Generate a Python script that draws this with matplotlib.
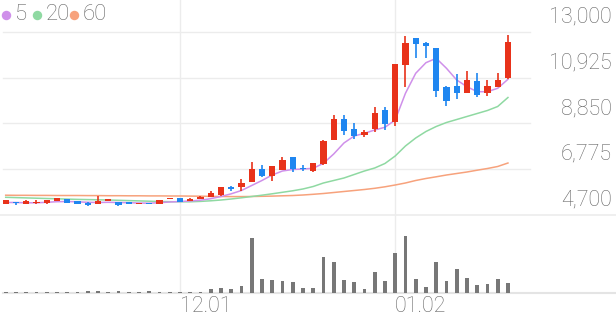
import matplotlib
matplotlib.use("Agg")
import matplotlib.pyplot as plt
from matplotlib.lines import Line2D

# daily candles, oldest first
opens = [5199, 5290, 5199, 5260, 5231, 5348, 5412, 5321, 5258, 5199,
         5348, 5290, 5290, 5199, 5258, 5199, 5412, 5485, 5348, 5412,
         5530, 5607, 5956, 5956, 6197, 6800, 6469, 6741, 7317, 6832,
         6682, 7013, 8102, 9068, 8587, 8342, 8587, 9462, 8932, 11490,
         12714, 12515, 12274, 10519, 10551, 10247, 10764, 10220, 10519, 10900]
highs = [5390, 5300, 5360, 5380, 5390, 5480, 5420, 5330, 5270, 5562,
         5430, 5300, 5300, 5265, 5265, 5390, 5485, 5490, 5450, 5540,
         5770, 5965, 6015, 6333, 7104, 6960, 6930, 7331, 7330, 6968,
         7080, 8080, 9249, 9222, 8859, 8555, 9585, 9612, 11560, 12819,
         12730, 12546, 12290, 10530, 11095, 11218, 11127, 10823, 11127, 12878]
lows = [5199, 5170, 5190, 5200, 5220, 5340, 5250, 5190, 5100, 5190,
        5340, 5100, 5190, 5190, 5190, 5190, 5405, 5295, 5340, 5405,
        5525, 5562, 5802, 5802, 6190, 6410, 6256, 6730, 6650, 6696,
        6670, 6981, 8095, 8315, 8133, 8230, 8465, 8555, 8737, 10519,
        11821, 11821, 10038, 9644, 9975, 10240, 10066, 10097, 10510, 10890]
closes = [5380, 5230, 5350, 5300, 5380, 5471, 5258, 5199, 5167, 5348,
          5412, 5167, 5199, 5258, 5199, 5380, 5471, 5303, 5440, 5530,
          5712, 5956, 5866, 6165, 6773, 6469, 6922, 7195, 6800, 6773,
          7072, 8070, 9041, 8524, 8283, 8465, 9313, 8827, 11549, 12515,
          12456, 12365, 10310, 9857, 10220, 10823, 10156, 10551, 10823, 12546]
# volume, thousand shares
volumes = [24, 24, 24, 24, 24, 24, 24, 24, 36, 44,
           24, 36, 24, 24, 40, 24, 24, 24, 24, 24,
           80, 100, 74, 150, 1100, 280, 260, 250, 220, 94,
           94, 720, 614, 254, 226, 86, 420, 246, 794, 1146,
           274, 126, 614, 246, 474, 294, 166, 180, 274, 194]

ma5 = [5267, 5267, 5253, 5253, 5276, 5303, 5312, 5299, 5276, 5267,
       5276, 5267, 5258, 5244, 5235, 5258, 5290, 5312, 5335, 5371,
       5439, 5539, 5661, 5811, 6038, 6265, 6514, 6696, 6764, 6786,
       6818, 7045, 7467, 7966, 8283, 8406, 8555, 8678, 9009, 10220,
       11127, 11608, 11807, 11354, 10823, 10519, 10292, 10292, 10447, 10855]
ma20 = [5503, 5489, 5476, 5462, 5448, 5435, 5421, 5408, 5399, 5390,
        5380, 5367, 5353, 5340, 5326, 5312, 5303, 5299, 5299, 5317,
        5344, 5380, 5426, 5480, 5539, 5598, 5662, 5730, 5798, 5880,
        5993, 6152, 6265, 6378, 6537, 6696, 6832, 7036, 7376, 7830,
        8192, 8487, 8714, 8895, 9031, 9168, 9304, 9440, 9621, 10029]
ma60 = [5598, 5593, 5593, 5589, 5589, 5584, 5584, 5584, 5580, 5580,
        5575, 5575, 5571, 5571, 5566, 5566, 5562, 5562, 5557, 5553,
        5544, 5539, 5535, 5535, 5539, 5548, 5557, 5571, 5584, 5607,
        5639, 5675, 5720, 5766, 5811, 5857, 5911, 5979, 6061, 6152,
        6265, 6356, 6433, 6514, 6582, 6650, 6732, 6809, 6900, 7058]

price_ticks = [4700, 6775, 8850, 10925, 13000]
date_ticks = [17, 38]
date_labels = ["12.01", "01.02"]
ma_labels = ["5", "20", "60"]
ma_colors = ["#cf90ea", "#8fd9a2", "#f7a27c"]

UP = "#e8321a"
DOWN = "#1f86f0"
GRID = "#ececec"
TEXT = "#666666"
FONT = dict(fontfamily="Roboto", fontweight="light", fontsize=15.5, color=TEXT)

W, H = 616, 321
fig = plt.figure(figsize=(W / 100, H / 100), dpi=100)
fig.patch.set_facecolor("white")

step, first = 10.25, 5.7
xlim = (-first / step, (W - first) / step)
n = len(closes)
idx = list(range(n))

# price panel
ax = fig.add_axes([0, 1 - 215 / H, 1, 215 / H])
ax.set_xlim(xlim)
ax.set_ylim(4700, 14451)
ax.axis("off")

for v in price_ticks[1:]:
    ax.axhline(v, xmin=3 / W, xmax=530 / W, color=GRID, lw=1, zorder=0)
ax.axhline(price_ticks[0], color=GRID, lw=1.2, zorder=0, clip_on=False)
for t in date_ticks:
    ax.axvline(t, color=GRID, lw=1, zorder=0)

for v in price_ticks:
    ax.annotate(f"{v:,}", xy=(612 / W, v), xycoords=("axes fraction", "data"),
                xytext=(0, 10.8), textcoords="offset points",
                ha="right", va="center", **FONT)

ax.plot(idx, ma60, color=ma_colors[2], lw=1.1, zorder=2)
ax.plot(idx, ma20, color=ma_colors[1], lw=1.1, zorder=2)
ax.plot(idx, ma5, color=ma_colors[0], lw=1.1, zorder=2)

for i in idx:
    o, h, l, c = opens[i], highs[i], lows[i], closes[i]
    col = UP if c >= o else DOWN
    ax.vlines(i, l, h, color=col, lw=1.2, zorder=3)
    ax.bar(i, max(abs(c - o), 45), bottom=min(o, c), width=0.62,
           color=col, zorder=4, linewidth=0)

# volume panel
vax = fig.add_axes([0, 1 - 293 / H, 1, 78 / H])
vax.set_xlim(xlim)
vax.set_ylim(0, 1560)
vax.axis("off")
vax.axhline(0, xmin=3 / W, xmax=1, color="#e4e4e4", lw=1.5, zorder=0, clip_on=False)
for t in date_ticks:
    vax.axvline(t, color=GRID, lw=1, zorder=0)
vax.bar(idx, volumes, width=0.38, color="#777777", zorder=2)

for t, lab in zip(date_ticks, date_labels):
    vax.annotate(lab, xy=(t, 0), xycoords="data", xytext=(0, -10),
                 textcoords="offset points", ha="left", va="center", **FONT)

# legend
lx = [6, 37, 74]
for x, lab, col in zip(lx, ma_labels, ma_colors):
    fig.add_artist(Line2D([x / W], [1 - 15 / H], marker="o", markersize=6.8,
                          color=col, markeredgewidth=0, transform=fig.transFigure))
    fig.text((x + 8.5) / W, 1 - 15 / H, lab, ha="left", va="center",
             fontfamily="Roboto", fontweight="light", fontsize=16, color=TEXT)

fig.savefig("out.png", dpi=100, facecolor="white")
